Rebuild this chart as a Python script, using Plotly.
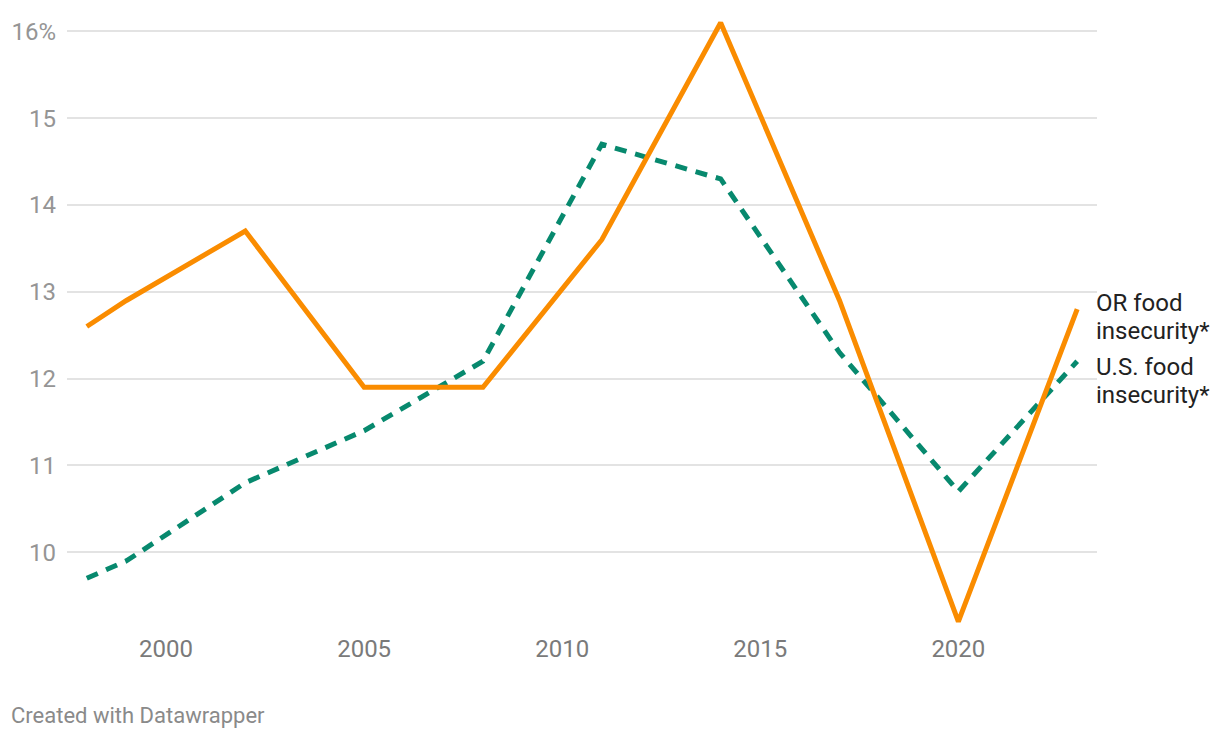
import plotly.graph_objects as go

years = [1998, 1999, 2002, 2005, 2008, 2011, 2014, 2017, 2020, 2023]
or_food = [12.6, 12.9, 13.7, 11.9, 11.9, 13.6, 16.1, 12.9, 9.2, 12.8]
us_food = [9.7, 9.9, 10.8, 11.4, 12.2, 14.7, 14.3, 12.3, 10.7, 12.2]

y_ticks = [10, 11, 12, 13, 14, 15, 16]
y_tick_text = ["10", "11", "12", "13", "14", "15", "16%"]
x_ticks = [2000, 2005, 2010, 2015, 2020]

or_label = ["OR food", "insecurity*"]
us_label = ["U.S. food", "insecurity*"]

ORANGE = "#fa8c00"
GREEN = "#07896e"
FONT = "Roboto"

fig = go.Figure()
fig.add_trace(go.Scatter(x=years, y=us_food, mode="lines", name="U.S. food insecurity*",
                         line=dict(color=GREEN, width=5, dash="12px,9px"), cliponaxis=False))
fig.add_trace(go.Scatter(x=years, y=or_food, mode="lines", name="OR food insecurity*",
                         line=dict(color=ORANGE, width=5), cliponaxis=False))

for txt, ysh in zip(or_label, [6, -22]):
    fig.add_annotation(x=years[-1], y=or_food[-1], text=txt,
                       showarrow=False, xanchor="left", yanchor="middle", align="left",
                       xshift=17, yshift=ysh,
                       font=dict(family=FONT, size=24, color="#222222"))
for txt, ysh in zip(us_label, [-6, -34]):
    fig.add_annotation(x=years[-1], y=us_food[-1], text=txt,
                       showarrow=False, xanchor="left", yanchor="middle", align="left",
                       xshift=17, yshift=ysh,
                       font=dict(family=FONT, size=24, color="#222222"))

fig.add_annotation(x=0, y=0, xref="paper", yref="paper", xanchor="left", yanchor="middle",
                   xshift=-58, yshift=-89,
                   text="Created with Datawrapper", showarrow=False,
                   font=dict(family=FONT, size=22, color="#8a8a8a"))

fig.update_layout(
    width=1212, height=730,
    margin=dict(l=59, r=123, t=6, b=112),
    paper_bgcolor="white", plot_bgcolor="white",
    showlegend=False,
    font=dict(family=FONT),
)
fig.update_xaxes(range=[1997.5, 2023.5], tickvals=x_ticks, showgrid=False, zeroline=False,
                 showline=False, ticks="", tickfont=dict(family=FONT, size=24, color="#7a7a7a"),
                 ticklabelstandoff=6, automargin=False)
fig.update_yaxes(range=[9.15, 16.2], tickvals=y_ticks, ticktext=y_tick_text,
                 showgrid=True, gridcolor="#e3e3e3", gridwidth=1.5, zeroline=False,
                 showline=False, ticks="", tickfont=dict(family=FONT, size=24, color="#959595"),
                 ticklabelstandoff=10, automargin=False)

fig.write_html("out.html")
